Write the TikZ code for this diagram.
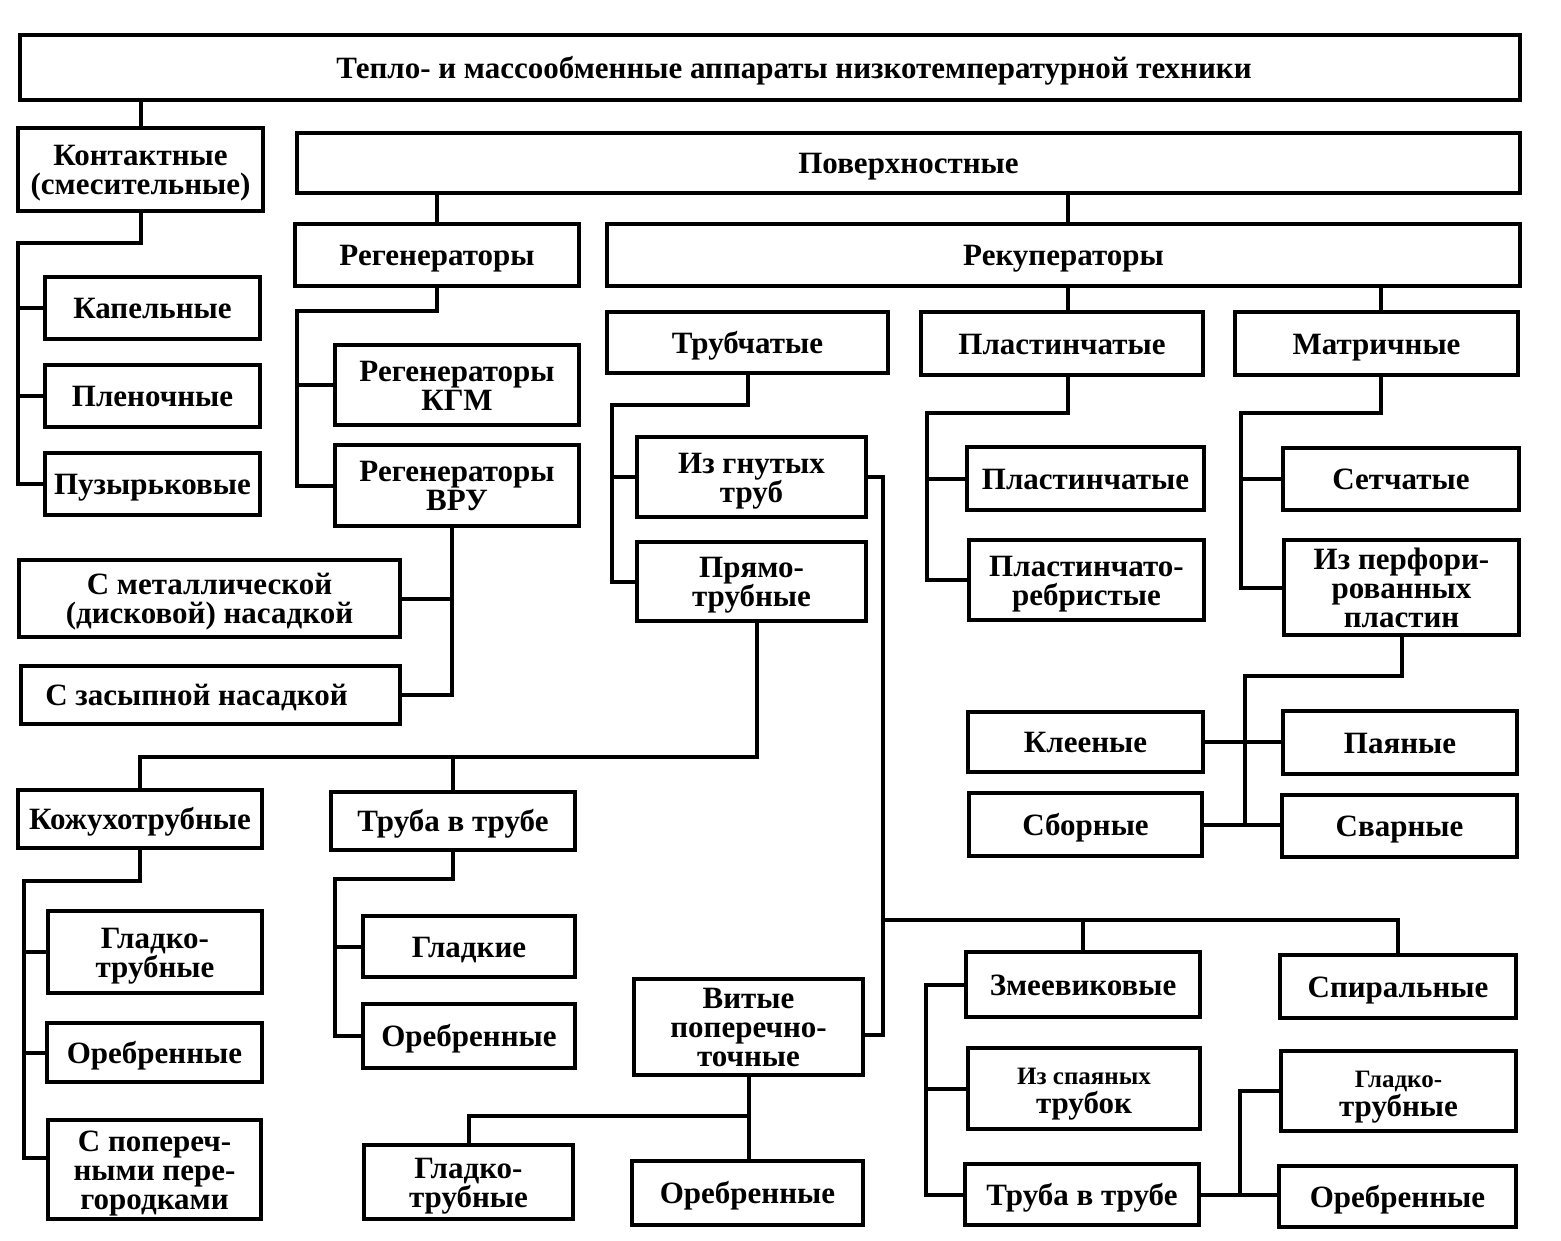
\documentclass[tikz,border=0pt]{standalone}
\usepackage{fontspec}
\setmainfont{Liberation Serif}
\newcommand{\sm}[1]{\raisebox{0pt}[\height][0pt]{#1}}
\begin{document}
\begin{tikzpicture}[x=1pt,y=-1pt,
  box/.style={draw,line width=4pt,inner sep=0pt,align=center,
    font=\bfseries\fontsize{31}{29}\selectfont},
  conn/.style={line width=4pt}]
\useasboundingbox (0,0) rectangle (1561,1240);
\newcommand{\mkbox}[6]{\node[box,minimum width={(#4-#2)*1pt},minimum height={(#5-#3)*1pt}] (#1) at ({(#2+#4)/2},{(#3+#5)/2}) {\rule{0pt}{22pt}#6\rule[-1pt]{0pt}{1pt}};}
\mkbox{title}{20}{35}{1520}{100}{\sm{\hspace*{48pt}Тепло- и массообменные аппараты низкотемпературной техники}}
\mkbox{kont}{18}{128}{263}{211}{Контактные\\\sm{(смесительные)}}
\mkbox{pov}{297}{133}{1520}{193}{\sm{Поверхностные}}
\mkbox{reg}{295}{224}{579}{286}{\sm{Регенераторы}}
\mkbox{rek}{607}{224}{1520}{286}{\sm{Рекуператоры}}
\mkbox{kap}{45}{277}{260}{339}{\sm{Капельные}}
\mkbox{plen}{45}{365}{260}{427}{\sm{Пленочные}}
\mkbox{puz}{45}{453}{260}{515}{\sm{Пузырьковые}}
\mkbox{kgm}{335}{345}{579}{425}{Регенераторы\\\sm{КГМ}}
\mkbox{vru}{335}{445}{579}{526}{Регенераторы\\\sm{ВРУ}}
\mkbox{met}{19}{560}{400}{637}{С металлической\\\sm{(дисковой) насадкой}}
\mkbox{zas}{21}{666}{400}{724}{\sm{С засыпной насадкой\hspace*{28pt}}}
\mkbox{trub}{607}{312}{888}{373}{\sm{Трубчатые}}
\mkbox{plast}{921}{312}{1203}{375}{\sm{Пластинчатые}}
\mkbox{matr}{1235}{312}{1518}{375}{\sm{Матричные}}
\mkbox{igt}{637}{437}{866}{517}{Из гнутых\\\sm{труб}}
\mkbox{pry}{637}{542}{866}{621}{Прямо-\\\sm{трубные}}
\mkbox{pl2}{967}{447}{1204}{510}{\sm{Пластинчатые}}
\mkbox{plr}{969}{540}{1204}{620}{Пластинчато-\\\sm{ребристые}}
\mkbox{setch}{1283}{448}{1519}{510}{\sm{Сетчатые}}
\mkbox{perf}{1284}{540}{1519}{635}{Из перфори-\\рованных\\\sm{пластин}}
\mkbox{klee}{968}{712}{1203}{772}{\sm{Клееные}}
\mkbox{pay}{1283}{711}{1517}{774}{\sm{Паяные}}
\mkbox{sbor}{969}{793}{1202}{856}{\sm{Сборные}}
\mkbox{svar}{1282}{795}{1517}{857}{\sm{Сварные}}
\mkbox{kozh}{18}{790}{262}{848}{\sm{Кожухотрубные}}
\mkbox{tvt1}{331}{792}{575}{850}{\sm{Труба в трубе}}
\mkbox{glt1}{48}{911}{262}{993}{Гладко-\\\sm{трубные}}
\mkbox{oreb1}{47}{1023}{262}{1082}{\sm{Оребренные}}
\mkbox{spop}{48}{1120}{261}{1219}{С попереч-\\ными пере-\\\sm{городками}}
\mkbox{glad}{363}{916}{575}{977}{\sm{Гладкие}}
\mkbox{oreb2}{363}{1004}{575}{1068}{\sm{Оребренные}}
\mkbox{vit}{634}{979}{863}{1075}{Витые\\поперечно-\\\sm{точные}}
\mkbox{glt3}{364}{1145}{573}{1219}{Гладко-\\\sm{трубные}}
\mkbox{oreb3}{632}{1161}{863}{1225}{\sm{Оребренные}}
\mkbox{zmeev}{966}{952}{1200}{1017}{\sm{Змеевиковые}}
\mkbox{spir}{1280}{955}{1516}{1018}{\sm{Спиральные}}
\mkbox{spay}{968}{1048}{1200}{1129}{{\fontsize{25}{25}\selectfont Из спаяных}\\\sm{трубок}}
\mkbox{tvt2}{965}{1164}{1199}{1225}{\sm{Труба в трубе}}
\mkbox{glt4}{1281}{1051}{1516}{1131}{{\fontsize{25}{25}\selectfont Гладко-}\\\sm{трубные}}
\mkbox{oreb4}{1279}{1166}{1516}{1227}{\sm{Оребренные}}
% coordinates
\coordinate (r1) at (1068,0);
\coordinate (r2) at (1381,0);
\coordinate (kb) at (18,243);
\coordinate (rb) at (297,311);
\coordinate (vb) at (452,0);
\coordinate (pb) at (927,413);
\coordinate (mb) at (1241,413);
\coordinate (fb) at (1245,676);
\coordinate (tb) at (612,405);
\coordinate (vj) at (883,1035);
\coordinate (hb) at (883,920);
\coordinate (zb) at (926,0);
\coordinate (tb2) at (1240,0);
\coordinate (vb2) at (749,1116);
\coordinate (pyb) at (757,757);
\coordinate (kb2) at (24,881);
\coordinate (kb3) at (24,1158);
\coordinate (t1b) at (335,879);
% connectors
\begin{scope}[conn]
\draw (kont.north) -- (kont.north |- title.south);
\draw (reg.north) -- (reg.north |- pov.south);
\draw (pov.south -| r1) -- (rek.north -| r1);
\draw (kont.south) |- (kb) -- (kb |- puz.west) -- (puz.west);
\draw (kb |- kap.west) -- (kap.west);
\draw (kb |- plen.west) -- (plen.west);
\draw (reg.south) |- (rb) -- (rb |- vru.west) -- (vru.west);
\draw (rb |- kgm.west) -- (kgm.west);
\draw (vru.south -| vb) -- (vb |- zas.east) -- (zas.east);
\draw (vb |- met.east) -- (met.east);
\draw (rek.south -| r1) -- (plast.north -| r1);
\draw (rek.south -| r2) -- (matr.north -| r2);
\draw (plast.south -| r1) |- (pb) -- (pb |- plr.west) -- (plr.west);
\draw (pb |- pl2.west) -- (pl2.west);
\draw (matr.south -| r2) |- (mb) -- (mb |- perf.west) -- (perf.west);
\draw (mb |- setch.west) -- (setch.west);
\draw (perf.south) |- (fb) -- (fb |- svar.west);
\draw (klee.east) -- (klee.east -| pay.west);
\draw (sbor.east) -- (sbor.east -| svar.west);
\draw (trub.south) |- (tb) -- (tb |- pry.west) -- (pry.west);
\draw (tb |- igt.west) -- (igt.west);
\draw (igt.east) -| (vj) -- (vj -| vit.east);
\draw (hb) -| (spir.north);
\draw (zmeev.north) -- (zmeev.north |- hb);
\draw (zmeev.west) -- (zmeev.west -| zb) -- (zb |- tvt2.west) -- (tvt2.west);
\draw (zb |- spay.west) -- (spay.west);
\draw (tvt2.east) -- (tvt2.east -| oreb4.west);
\draw (tvt2.east -| tb2) |- (glt4.west);
\draw (vit.south) -- (vit.south |- oreb3.north);
\draw (vb2) -| (glt3.north);
\draw (pry.south -| pyb) -- (pyb) -| (kozh.north);
\draw (tvt1.north) -- (tvt1.north |- pyb);
\draw (kozh.south) |- (kb2) -- (kb3) -- (kb3 -| spop.west);
\draw (kb2 |- glt1.west) -- (glt1.west);
\draw (kb2 |- oreb1.west) -- (oreb1.west);
\draw (tvt1.south) |- (t1b) -- (t1b |- oreb2.west) -- (oreb2.west);
\draw (t1b |- glad.west) -- (glad.west);
\end{scope}
\end{tikzpicture}
\end{document}
